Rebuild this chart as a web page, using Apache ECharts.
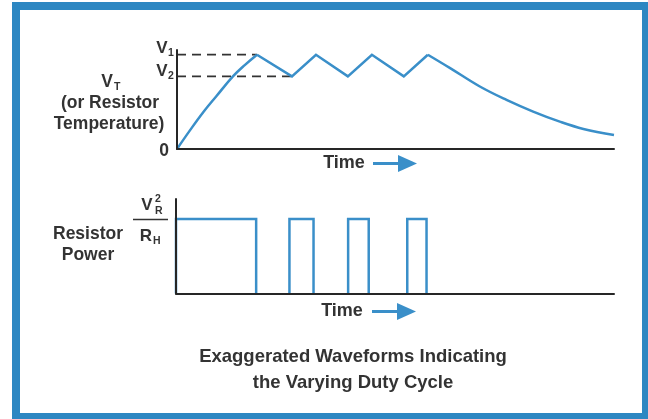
<!DOCTYPE html>
<html>
<head>
<meta charset="utf-8">
<script src="https://cdn.jsdelivr.net/npm/echarts@6/dist/echarts.min.js"></script>
<style>
    html, body { margin: 0; padding: 0; background: #fff; }
    #main { width: 648px; height: 419px; }
</style>
</head>
<body>
<div id="main"></div>
<script>
// 上图: V_T (电阻温度)，时间 0~100，电压以 V1 = 1 归一
var riseTime   = [0, 3, 6, 9, 12.8, 15.5, 18.3];
var riseValue  = [0, 0.2, 0.39, 0.56, 0.77, 0.89, 1.0];
var zigTime    = [18.3, 26.3, 31.8, 39.1, 44.6, 51.9, 57.4];
var zigValue   = [1.0, 0.77, 1.0, 0.77, 1.0, 0.77, 1.0];
var decayTime  = [57.4, 62.5, 69.3, 75.4, 81.5, 87.6, 93.0, 100];
var decayValue = [1.0, 0.858, 0.663, 0.521, 0.397, 0.29, 0.213, 0.149];
var v1 = 1.0, v2 = 0.77;
var v1Until = 18.3, v2Until = 26.3;   // 虚线画到第一个峰 / 谷

// 下图: 电阻功率 (脉冲开 / 关的时刻)
var pulseOn  = [0, 25.9, 39.3, 52.8];
var pulseOff = [18.3, 31.4, 44.0, 57.2];
var pulseLevel = 1;

var caption = ['Exaggerated Waveforms Indicating', 'the Varying Duty Cycle'];

var blue = '#3a8fc9';
var ink = '#333333';
var font = '"Liberation Sans", Arial, Helvetica, sans-serif';

function pairs(xs, ys) {
    return xs.map(function (x, i) { return [x, ys[i]]; });
}

// 功率方波，每个脉冲单独一段 (底边就是坐标轴)
var powerData = [];
pulseOn.forEach(function (t, i) {
    powerData.push([t, 0], [t, pulseLevel], [pulseOff[i], pulseLevel], [pulseOff[i], 0], [pulseOff[i], '-']);
});

function txt(x, y, s, size, align) {
    return {
        type: 'text', x: x, y: y, silent: true,
        style: {
            text: s, fill: ink, font: 'bold ' + size + 'px ' + font,
            textAlign: align || 'center', textVerticalAlign: 'middle'
        }
    };
}

var axisStyle = { show: true, lineStyle: { color: '#262626', width: 2 } };
function axis(type, grid, max) {
    return {
        gridIndex: grid, type: 'value', min: 0, max: max, z: 10,
        axisLine: axisStyle, axisTick: { show: false },
        axisLabel: { show: false }, splitLine: { show: false }
    };
}

var myChart = echarts.init(document.getElementById('main'));
var option = {
    animation: false,
    backgroundColor: '#fff',
    grid: [
        { left: 177, right: 34, top: 50, height: 99 },
        { left: 176, right: 34, top: 199, height: 94.5 }
    ],
    xAxis: [axis('x', 0, 100), axis('x', 1, 100)],
    yAxis: [axis('y', 0, 1.05), axis('y', 1, 1.27)],
    series: [
        // V1 / V2 虚线
        {
            type: 'line', xAxisIndex: 0, yAxisIndex: 0, symbol: 'none', silent: true,
            data: [[0, v1], [v1Until, v1]],
            lineStyle: { color: ink, width: 1.8, type: [9, 6] }
        },
        {
            type: 'line', xAxisIndex: 0, yAxisIndex: 0, symbol: 'none', silent: true,
            data: [[0, v2], [v2Until, v2]],
            lineStyle: { color: ink, width: 1.8, type: [9, 6] }
        },
        // 升温 (平滑)
        {
            type: 'line', xAxisIndex: 0, yAxisIndex: 0, symbol: 'none', smooth: 0.4,
            data: pairs(riseTime, riseValue), z: 5,
            lineStyle: { color: blue, width: 2.5 }
        },
        // 锯齿
        {
            type: 'line', xAxisIndex: 0, yAxisIndex: 0, symbol: 'none',
            data: pairs(zigTime, zigValue), z: 5,
            lineStyle: { color: blue, width: 2.5, join: 'miter' }
        },
        // 冷却 (平滑)
        {
            type: 'line', xAxisIndex: 0, yAxisIndex: 0, symbol: 'none', smooth: 0.4,
            data: pairs(decayTime, decayValue), z: 5,
            lineStyle: { color: blue, width: 2.5 }
        },
        {
            name: 'Power', type: 'line', xAxisIndex: 1, yAxisIndex: 1, symbol: 'none',
            data: powerData, z: 5, connectNulls: false,
            lineStyle: { color: blue, width: 2.5, join: 'miter' }
        }
    ],
    graphic: [
        // 蓝色边框
        { type: 'rect', silent: true, shape: { x: 16, y: 6, width: 630, height: 411 },
          style: { fill: 'none', stroke: '#2d87c2', lineWidth: 8 } },

        // 上图左侧标签
        txt(107, 82, 'V', 17.5, 'center'),
        txt(114, 87, 'T', 10.5, 'left'),
        txt(110, 103, '(or Resistor', 17.5),
        txt(109, 124, 'Temperature)', 17.5),
        txt(162, 48, 'V', 17, 'center'),
        txt(168, 53, '1', 10.5, 'left'),
        txt(162, 71, 'V', 17, 'center'),
        txt(168, 76, '2', 10.5, 'left'),
        txt(164, 151, '0', 17.5),

        // Time 箭头 (上)
        txt(344, 163, 'Time', 18),
        { type: 'line', silent: true, shape: { x1: 373, y1: 163.5, x2: 400, y2: 163.5 },
          style: { stroke: blue, lineWidth: 3 } },
        { type: 'polygon', silent: true, shape: { points: [[398, 155], [417, 163.5], [398, 172]] },
          style: { fill: blue } },

        // 下图左侧标签
        txt(88, 234, 'Resistor', 17.5),
        txt(88, 255, 'Power', 17.5),
        txt(147, 205, 'V', 17, 'center'),
        txt(155, 199, '2', 10.5, 'left'),
        txt(155, 211, 'R', 10.5, 'left'),
        { type: 'line', silent: true, shape: { x1: 133, y1: 219.5, x2: 168, y2: 219.5 },
          style: { stroke: ink, lineWidth: 1.5 } },
        txt(146, 236, 'R', 17, 'center'),
        txt(153, 241, 'H', 10.5, 'left'),

        // Time 箭头 (下)
        txt(342, 311, 'Time', 18),
        { type: 'line', silent: true, shape: { x1: 372, y1: 311.5, x2: 399, y2: 311.5 },
          style: { stroke: blue, lineWidth: 3 } },
        { type: 'polygon', silent: true, shape: { points: [[397, 303], [416, 311.5], [397, 320]] },
          style: { fill: blue } },

        // 标题
        txt(353, 357, caption[0], 18.5),
        txt(353, 383, caption[1], 18.5)
    ]
};
myChart.setOption(option);
</script>
</body>
</html>
